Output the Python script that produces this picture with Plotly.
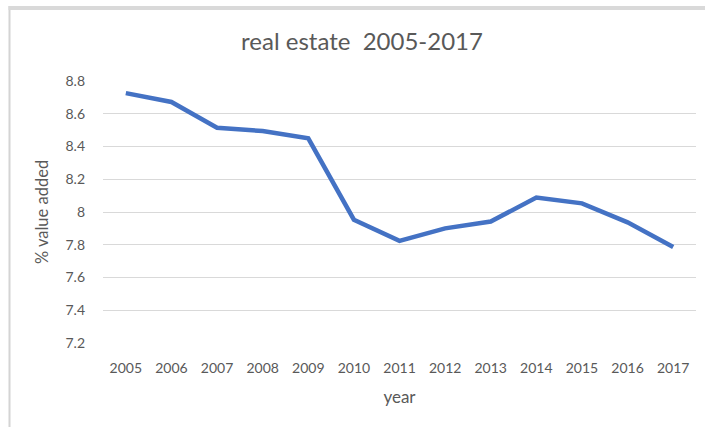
import plotly.graph_objects as go

years = ["2005", "2006", "2007", "2008", "2009", "2010", "2011",
         "2012", "2013", "2014", "2015", "2016", "2017"]
value_added = [8.726, 8.672, 8.515, 8.494, 8.450, 7.953, 7.824,
               7.900, 7.942, 8.088, 8.053, 7.937, 7.786]

TEXT = "#595959"
FONT = "Lato"

W, H = 705, 427
L, R, T, B = 103, 9, 81, 84
pw, ph = W - L - R, H - T - B

def px(x):
    return (x - L) / pw

def py(y):
    return (H - B - y) / ph

fig = go.Figure()
fig.add_trace(go.Scatter(
    x=years, y=value_added, mode="lines",
    line=dict(color="#4472C4", width=4.5),
    hoverinfo="x+y", showlegend=False,
))

fig.update_layout(
    width=W, height=H,
    margin=dict(l=L, r=R, t=T, b=B, autoexpand=False),
    paper_bgcolor="white", plot_bgcolor="white",
    font=dict(family=FONT, color=TEXT, size=14),
    title=dict(text="real estate  2005-2017", x=362 / W, xanchor="center",
               y=1 - 42 / H, yanchor="middle",
               font=dict(family=FONT, size=24, color=TEXT)),
    xaxis=dict(
        type="category", range=[-0.5, 12.5], showgrid=False, zeroline=False,
        showline=False, ticks="", tickfont=dict(size=14, color=TEXT),
        ticklabelstandoff=15,
        title=dict(text="year", standoff=16, font=dict(size=17, color=TEXT)),
    ),
    yaxis=dict(
        range=[7.2, 8.8], dtick=0.2, tick0=7.2, showgrid=True,
        gridcolor="#d9d9d9", gridwidth=1, zeroline=False, showline=False,
        ticks="", tickfont=dict(size=14, color=TEXT), ticklabelstandoff=17,
        title=dict(text="% value added", standoff=12, font=dict(size=16.5, color=TEXT)),
    ),
    shapes=[
        dict(type="line", xref="paper", yref="paper", x0=px(9.5), x1=px(9.5),
             y0=py(6), y1=py(430), line=dict(color="#d4d4d4", width=2)),
        dict(type="rect", xref="paper", yref="paper", x0=px(8.5), x1=px(710),
             y0=py(10), y1=py(6), line=dict(width=0), fillcolor="#d9d9d9"),
    ],
)

fig.write_html("out.html", config={"displayModeBar": False},
               post_script="document.body.style.margin='0px';")
